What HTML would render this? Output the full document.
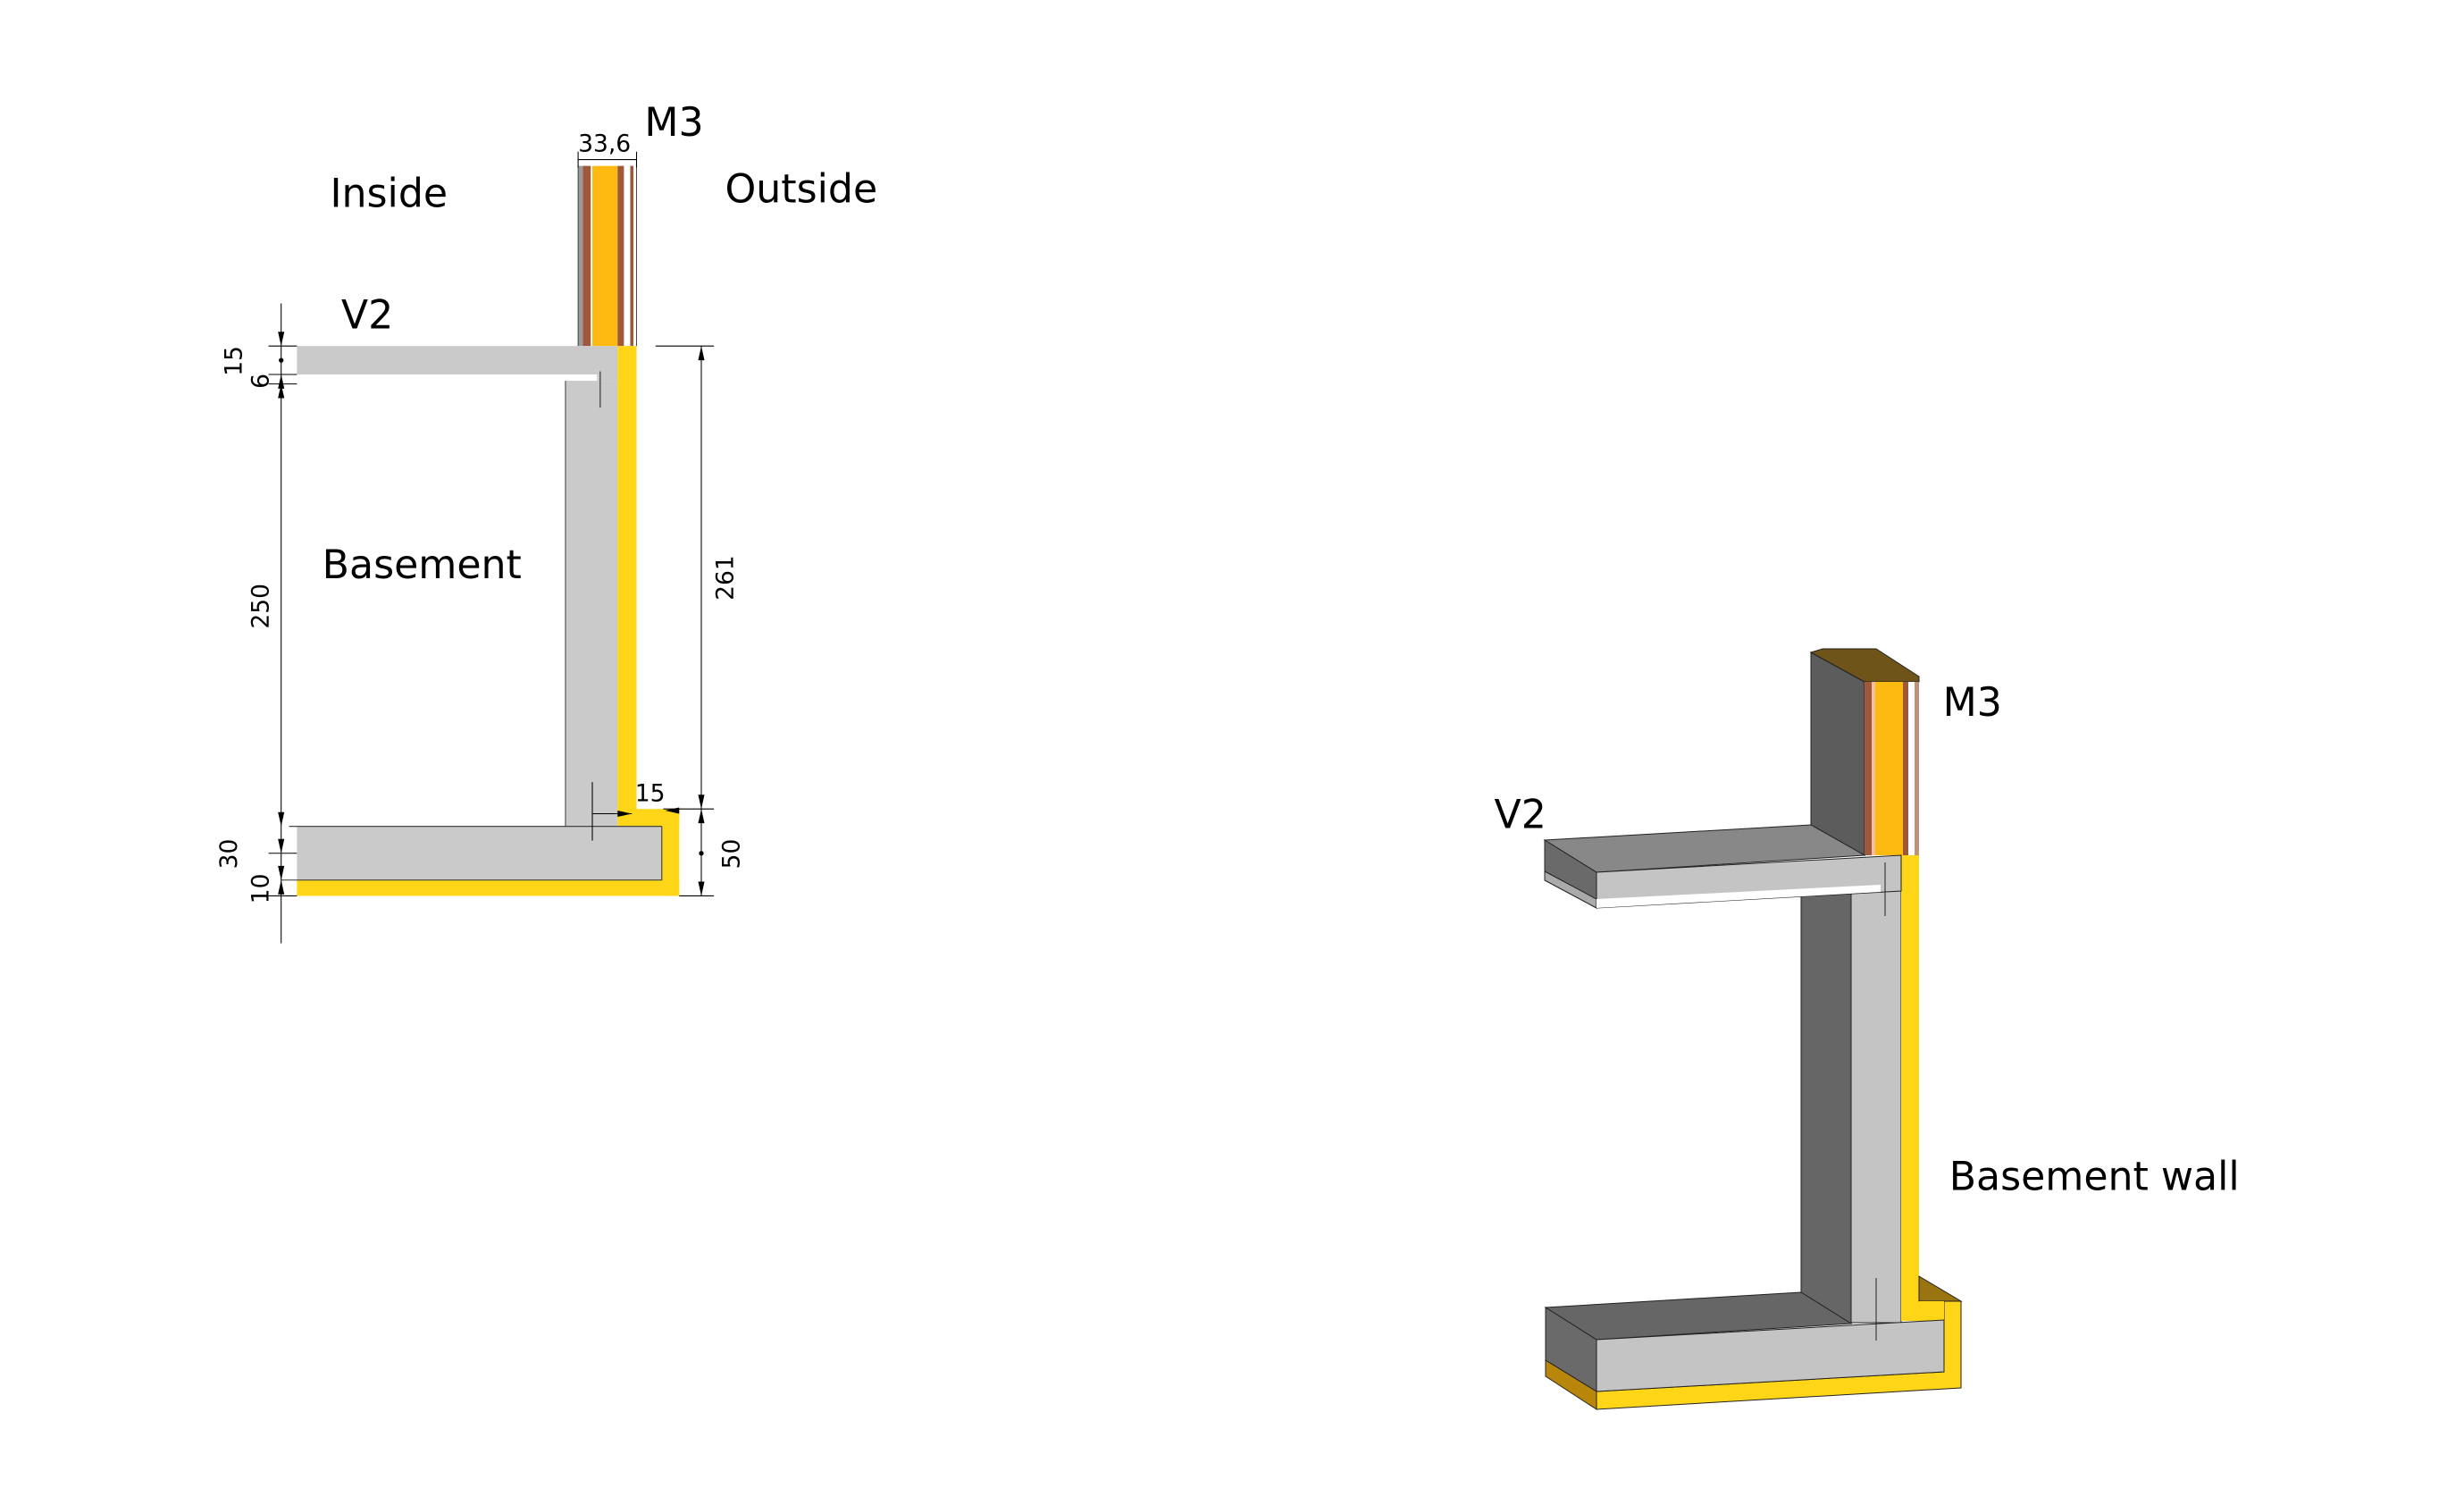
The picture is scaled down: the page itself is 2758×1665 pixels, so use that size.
<!DOCTYPE html>
<html><head><meta charset="utf-8"><style>
html,body{margin:0;padding:0;background:#fff;}
svg{display:block;}
text{font-family:"DejaVu Sans","Liberation Sans",sans-serif;fill:#000;}
</style></head><body>
<svg width="2758" height="1665" viewBox="0 0 2758 1665" xmlns="http://www.w3.org/2000/svg">
<rect width="2758" height="1665" fill="#fff"/>
<g transform="scale(1.768)">
  <rect x="366" y="105" width="37" height="114" fill="#fff"/>
  <rect x="366" y="105" width="3" height="114" fill="#9a9a9a"/>
  <rect x="369" y="105" width="5" height="114" fill="#a0583a"/>
  <rect x="375" y="105" width="16" height="114" fill="#ffba12"/>
  <rect x="391" y="105" width="4" height="114" fill="#a0583a"/>
  <rect x="399" y="105" width="2" height="114" fill="#a0583a"/>
  <line x1="366" y1="105" x2="366" y2="219" stroke="#333" stroke-width="0.5"/>
  <line x1="403" y1="105" x2="403" y2="219" stroke="#333" stroke-width="0.5"/>
  <rect x="188" y="219" width="203" height="18" fill="#cacaca"/>
  <rect x="188" y="237" width="190" height="4" fill="#fff"/>
  <rect x="358" y="241" width="33" height="282" fill="#cacaca"/>
  <line x1="358" y1="241" x2="358" y2="523" stroke="#444" stroke-width="0.6"/>
  <rect x="378" y="237" width="13" height="4" fill="#cacaca"/>
  <rect x="391" y="219" width="12" height="297" fill="#ffd617"/>
  <rect x="391" y="512" width="39" height="11" fill="#ffd617"/>
  <rect x="419" y="512" width="11" height="55" fill="#ffd617"/>
  <rect x="188" y="557" width="242" height="10" fill="#ffd617"/>
  <rect x="188" y="523" width="231" height="34" fill="#cacaca"/>
  <line x1="183" y1="523" x2="419" y2="523" stroke="#333" stroke-width="0.6"/>
  <line x1="419" y1="523" x2="419" y2="557" stroke="#333" stroke-width="0.6"/>
  <line x1="178" y1="557" x2="419" y2="557" stroke="#333" stroke-width="0.6"/>
  <line x1="380" y1="235" x2="380" y2="258" stroke="#222" stroke-width="0.6"/>
  <g stroke="#000" stroke-width="0.6" fill="none">
    <line x1="178" y1="192" x2="178" y2="597"/>
    <line x1="170" y1="219" x2="188" y2="219"/>
    <line x1="170" y1="237" x2="188" y2="237"/>
    <line x1="170" y1="243" x2="188" y2="243"/>
    <line x1="170" y1="540" x2="188" y2="540"/>
    <line x1="170" y1="567" x2="188" y2="567"/>
    <line x1="415" y1="219" x2="452" y2="219"/>
    <line x1="444" y1="219" x2="444" y2="512"/>
    <line x1="420" y1="512" x2="452" y2="512"/>
    <line x1="444" y1="512" x2="444" y2="567"/>
    <line x1="430" y1="567" x2="452" y2="567"/>
    <line x1="366" y1="96" x2="366" y2="106"/>
    <line x1="403" y1="96" x2="403" y2="106"/>
    <line x1="366" y1="101" x2="403" y2="101"/>
    <line x1="375" y1="495" x2="375" y2="532"/>
    <line x1="375" y1="515" x2="400" y2="515"/>
  </g>
  <g fill="#000">
    <polygon points="178,219 176,210 180,210"/>
    <polygon points="178,237 176,246 180,246"/>
    <polygon points="178,243 176,252 180,252"/>
    <polygon points="178,523 176,514 180,514"/>
    <polygon points="178,540 176,531 180,531"/>
    <polygon points="178,557 176,548 180,548"/>
    <polygon points="178,557 176,566 180,566"/>
    <polygon points="444,219 442,228 446,228"/>
    <polygon points="444,512 442,503 446,503"/>
    <polygon points="444,512 442,521 446,521"/>
    <polygon points="444,567 442,558 446,558"/>
    <circle cx="444" cy="540" r="1.5"/><circle cx="178" cy="228" r="1.5"/>
    <polygon points="400,515 391,513 391,517"/>
    <polygon points="421,513 430,511 430,515"/>
  </g>
  <g font-size="15">
    <text transform="translate(153,238) rotate(-90)">15</text>
    <text transform="translate(170,246) rotate(-90)">6</text>
    <text transform="translate(170,398) rotate(-90)">250</text>
    <text transform="translate(150,550) rotate(-90)">30</text>
    <text transform="translate(170,572) rotate(-90)">10</text>
    <text transform="translate(464,380) rotate(-90)">261</text>
    <text transform="translate(468,550) rotate(-90)">50</text>
    <text x="366" y="96">33,6</text>
    <text x="402" y="507">15</text>
  </g>
  <g font-size="25">
    <text x="408" y="86">M3</text>
    <text x="209" y="131">Inside</text>
    <text x="459" y="128">Outside</text>
    <text x="216" y="208">V2</text>
    <text x="204" y="366">Basement</text>
    <text x="1230" y="453">M3</text>
    <text x="946" y="524">V2</text>
    <text x="1234" y="753">Basement wall</text>
  </g>
</g>
<g stroke="#222" stroke-width="1">
  <!-- lower wall (behind slab) -->
  <rect x="2016" y="1000" width="56" height="481" fill="#666"/>
  <rect x="2072" y="990" width="56" height="490" fill="#c4c4c4"/>
  <rect x="2128" y="957" width="20" height="521" fill="#ffd617" stroke="none"/>
  <!-- upper wall -->
  <polygon points="2027,730 2087,763 2087,957 2027,923" fill="#5c5c5c"/>
  <polygon points="2027,730 2040,726 2100,726 2148,757 2148,763 2087,763" fill="#6e5418"/>
  <rect x="2087" y="763" width="61" height="194" fill="#ffba12" stroke="none"/>
  <rect x="2087" y="763" width="8" height="194" fill="#a0583a" stroke="none"/>
  <rect x="2095" y="763" width="4" height="194" fill="#f0c0a0" stroke="none"/>
  <rect x="2130" y="763" width="6" height="194" fill="#a0583a" stroke="none"/>
  <rect x="2136" y="763" width="7" height="194" fill="#fff" stroke="none"/>
  <rect x="2143" y="763" width="5" height="194" fill="#c0907a" stroke="none"/>
  <!-- slab -->
  <polygon points="1729,940 2027,923 2087,957 1787,976" fill="#888"/>
  <polygon points="1729,940 1787,976 1787,1016 1729,985" fill="#6a6a6a"/>
  <polygon points="1729,975 1787,1006 1787,1016 1729,985" fill="#aaa"/>
  <polygon points="1787,976 2128,957 2128,997 1787,1016" fill="#c4c4c4"/>
  <polygon points="1787,1006 2105,990 2105,998 1787,1016" fill="#fff" stroke="none"/>
  <line x1="2110" y1="965" x2="2110" y2="1025"/>
  <!-- floor -->
  <polygon points="1730,1463 2016,1446 2072,1481 1787,1499" fill="#666"/>
  <polygon points="1730,1463 1787,1499 1787,1557 1730,1522" fill="#6a6a6a"/>
  <polygon points="1730,1522 1787,1557 1787,1577 1730,1540" fill="#b8860b"/>
  <polygon points="2148,1428 2195,1456 2148,1456" fill="#9a7410"/>
  <polygon points="1787,1557 2176,1535 2176,1456 2195,1456 2195,1553 1787,1577" fill="#ffd617"/>
  <rect x="2148" y="1456" width="28" height="22" fill="#ffd617" stroke="none"/>
  <polygon points="1787,1499 2176,1477 2176,1535 1787,1557" fill="#c4c4c4"/>
  <line x1="2100" y1="1430" x2="2100" y2="1500"/>
</g>
</svg>
</body></html>
